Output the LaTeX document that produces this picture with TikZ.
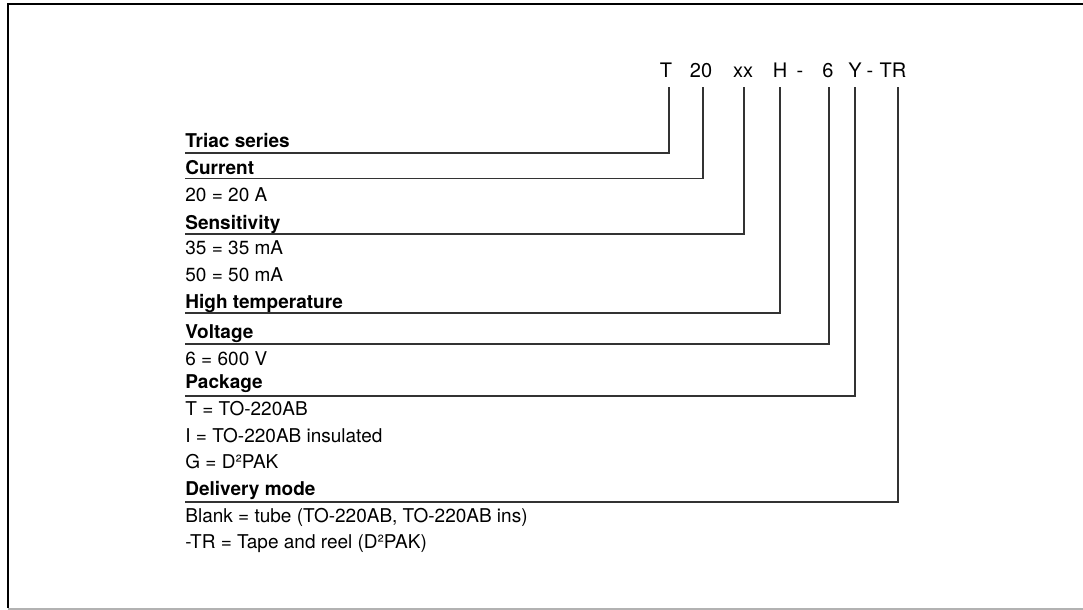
\documentclass[tikz,border=0pt]{standalone}
\usepackage{fontspec}
\setmainfont{TeX Gyre Heros}
\begin{document}
\begin{tikzpicture}[x=0.5pt,y=-0.5pt,
    codepart/.style={anchor=base,inner xsep=0pt,inner ysep=4.5pt,text depth=0pt,font=\fontsize{10}{12}\selectfont},
    heading/.style={anchor=base west,inner sep=0pt,font=\fontsize{9.5}{11}\selectfont\bfseries},
    option/.style={anchor=base west,inner sep=0pt,font=\fontsize{9.5}{11}\selectfont},
    lead/.style={draw=black!80,line width=0.7pt}]
    % Define dimensions
    \def\leftx{185}
    \def\codey{78}
    \useasboundingbox (0,0) rectangle (1083,610);
    % Frame
    \draw[black,line width=1.1pt] (8,608) -- (8,3.8) -- (1083,3.8);
    \draw[black!30,line width=0.6pt] (8,609) -- (1083,609);
    % Ordering code
    \foreach \name/\x/\txt in {ct/666/T, cur/701/20, sens/743/xx, ht/780/H, da/800/-, volt/828/6, pack/855/Y, db/870/-, del/893/TR}
        \node[codepart] (\name) at (\x,\codey) {\txt};
    % Headings with their underlines
    \foreach \name/\y/\u/\txt in {hser/148/153/Triac series, hcur/175/178.5/Current, hsens/229/234/Sensitivity,
        hht/308/313/High temperature, hvolt/338/344/Voltage, hpack/388/396/Package, hdel/495/502/Delivery mode}
    {
        \node[heading] (\name) at (\leftx,\y) {\txt};
        \coordinate (\name-u) at (\leftx,\u);
    }
    % Options
    \foreach \name/\y/\txt in {o1/202/20 = 20 A, o2/255/35 = 35 mA, o3/282/50 = 50 mA, o4/365/6 = 600 V,
        o5/415/T = TO-220AB, o6/442/I = TO-220AB insulated, o7/468/G = D²PAK,
        o8/522/{Blank = tube (TO-220AB, TO-220AB ins)}, o9/548/-TR = Tape and reel (D²PAK)}
        \node[option] (\name) at (\leftx,\y) {\txt};
    % Leads
    \draw[lead] ([xshift=1.5pt]ct.south) |- (hser-u);
    \draw[lead] ([xshift=1pt]cur.south) |- (hcur-u);
    \draw[lead] ([xshift=0.5pt]sens.south) |- (hsens-u);
    \draw[lead] (ht.south) |- (hht-u);
    \draw[lead] ([xshift=0.5pt]volt.south) |- (hvolt-u);
    \draw[lead] (pack.south) |- (hpack-u);
    \draw[lead] ([xshift=2.5pt]del.south) |- (hdel-u);
\end{tikzpicture}
\end{document}
